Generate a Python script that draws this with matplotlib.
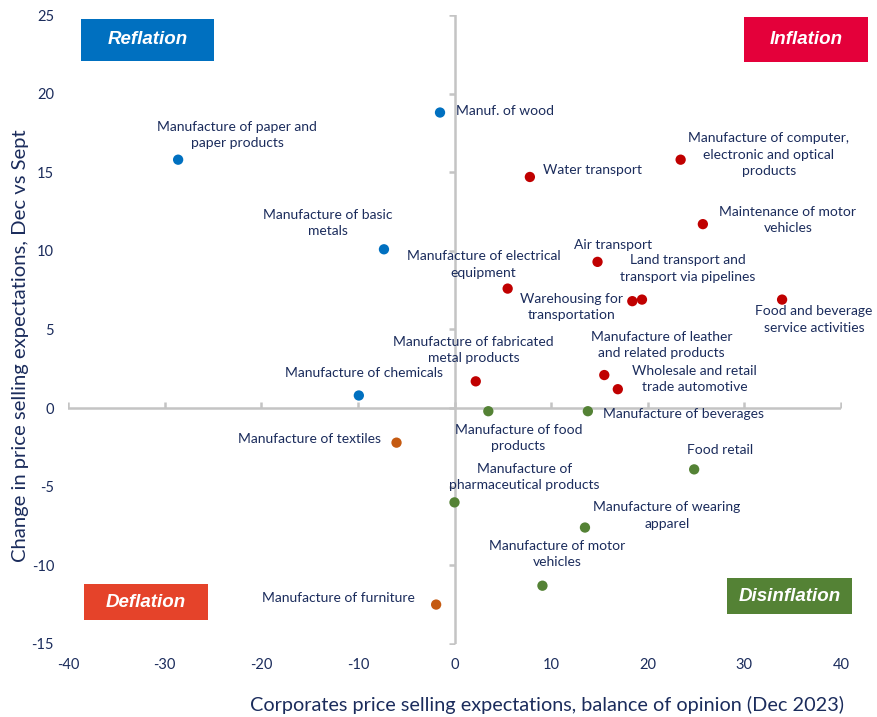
import matplotlib
matplotlib.use("Agg")
import matplotlib.pyplot as plt
from matplotlib.patches import Rectangle

# sector data: x = price selling expectations (Dec 2023), y = change Dec vs Sept
sectors = [
    "Manufacture of paper and\npaper products", "Manuf. of wood",
    "Manufacture of basic\nmetals", "Manufacture of chemicals",
    "Manufacture of textiles", "Manufacture of furniture",
    "Water transport", "Manufacture of computer,\nelectronic and optical\nproducts",
    "Maintenance of motor\nvehicles", "Air transport",
    "Manufacture of electrical\nequipment", "Land transport and\ntransport via pipelines",
    "Warehousing for\ntransportation", "Food and beverage\nservice activities",
    "Manufacture of leather\nand related products", "Wholesale and retail\ntrade automotive",
    "Manufacture of fabricated\nmetal products", "Manufacture of food\nproducts",
    "Manufacture of beverages", "Food retail",
    "Manufacture of\npharmaceutical products", "Manufacture of wearing\napparel",
    "Manufacture of motor\nvehicles",
]
x_vals = [-28.6, -1.5, -7.3, -9.9, -6.0, -1.9, 7.8, 23.4, 25.7, 14.8, 5.5, 19.4,
          18.4, 33.9, 15.5, 16.9, 2.2, 3.5, 13.8, 24.8, 0.0, 13.5, 9.1]
y_vals = [15.8, 18.8, 10.1, 0.8, -2.2, -12.5, 14.7, 15.8, 11.7, 9.3, 7.6, 6.9,
          6.8, 6.9, 2.1, 1.2, 1.7, -0.2, -0.2, -3.9, -6.0, -7.6, -11.3]
groups = ["reflation", "reflation", "reflation", "reflation", "deflation", "deflation",
          "inflation", "inflation", "inflation", "inflation", "inflation", "inflation",
          "inflation", "inflation", "inflation", "inflation", "inflation",
          "disinflation", "disinflation", "disinflation", "disinflation", "disinflation",
          "disinflation"]

# label placement (offset in pixels from the point, horizontal alignment)
label_pos = [(59, 25, "center"), (16, 2, "left"), (-56, 26, "center"), (5, 22, "center"),
             (-16, 4, "right"), (-21, 7, "right"), (13, 7, "left"), (88, 5, "center"),
             (85, 4, "center"), (16, 17, "center"), (-24, 24, "center"), (46, 31, "center"),
             (-61, -6, "center"), (32, -20, "center"), (57, 30, "center"), (77, 10, "center"),
             (-2, 31, "center"), (30, -27, "center"), (15, -3, "left"), (26, 19, "center"),
             (70, 25, "center"), (82, 12, "center"), (15, 32, "center")]

colors = {"reflation": "#0070c0", "inflation": "#c00000",
          "deflation": "#c55a11", "disinflation": "#548235"}
boxes = [("Reflation", "#0070c0", 0.017, 0.927, 0.172, 0.067),
         ("Inflation", "#e4003a", 0.8745, 0.925, 0.160, 0.072),
         ("Deflation", "#e5432a", 0.021, 0.038, 0.160, 0.057),
         ("Disinflation", "#548235", 0.8525, 0.048, 0.162, 0.056)]

navy = "#1b2c5c"
plt.rcParams["font.family"] = ["Lato", "DejaVu Sans"]
plt.rcParams["axes.unicode_minus"] = False

fig = plt.figure(figsize=(8.77, 7.17), dpi=100)
ax = fig.add_axes([0.0775, 0.102, 0.8815, 0.877])

ax.set_xlim(-40, 40)
ax.set_ylim(-15, 25)
xticks = list(range(-40, 41, 10))
yticks = list(range(-15, 26, 5))
ax.set_xticks(xticks)
ax.set_yticks(yticks)
ax.tick_params(length=0, labelsize=10.5, labelcolor=navy, pad=10)
for s in ax.spines.values():
    s.set_visible(False)

# axes crossing at zero, with small tick marks
ax.plot([-40, 40], [0, 0], color="#c4c4c4", lw=1.8, zorder=1)
ax.plot([0, 0], [-15, 25], color="#c4c4c4", lw=1.8, zorder=1)
ax.plot(xticks, [0] * len(xticks), ls="none", marker=2, ms=4, mew=1.8, color="#c4c4c4", zorder=1)
ax.plot([0] * len(yticks), yticks, ls="none", marker=0, ms=4, mew=1.8, color="#c4c4c4", zorder=1)

ax.scatter(x_vals, y_vals, c=[colors[g] for g in groups], s=55, zorder=3, linewidths=0)

for name, x, y, (dx, dy, ha) in zip(sectors, x_vals, y_vals, label_pos):
    ax.annotate(name, (x, y), xytext=(dx, dy), textcoords="offset pixels",
                ha=ha, va="center", fontsize=10, color=navy, linespacing=1.42,
                multialignment="center")

for text, col, bx, by, bw, bh in boxes:
    ax.add_patch(Rectangle((bx, by), bw, bh, transform=ax.transAxes,
                           facecolor=col, edgecolor="none", zorder=2, clip_on=False))
    ax.text(bx + bw / 2, by + bh / 2, text, transform=ax.transAxes, ha="center",
            va="center", color="white", fontsize=13.5, fontweight="bold",
            fontstyle="italic", family=["Liberation Sans", "DejaVu Sans"], zorder=3)

ax.set_xlabel("Corporates price selling expectations, balance of opinion (Dec 2023)",
              fontsize=14.3, color=navy)
ax.set_ylabel("Change in price selling expectations, Dec vs Sept",
              fontsize=14.6, color=navy)
ax.xaxis.set_label_coords(0.62, -0.083)
ax.yaxis.set_label_coords(-0.050, 0.474)

fig.savefig("out.png", dpi=100)
